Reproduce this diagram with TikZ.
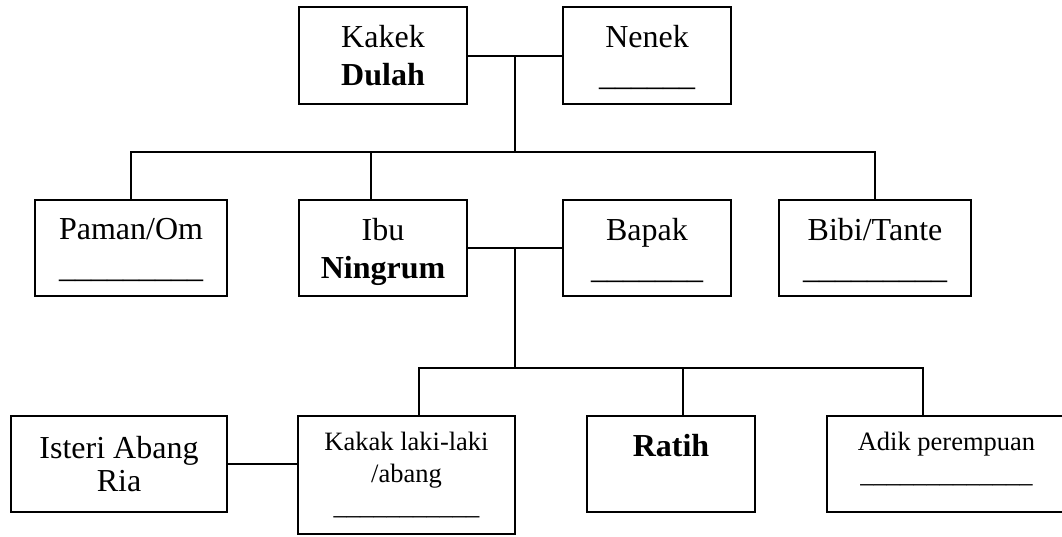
\documentclass[tikz,border=0pt]{standalone}
\usepackage{fontspec}
\setmainfont{Liberation Serif}
\usetikzlibrary{calc}
\begin{document}
\begin{tikzpicture}[x=1pt,y=-1pt,
  box/.style={draw, line width=2.2pt, align=center, inner sep=0pt, font=\fontsize{32}{38}\selectfont},
  smallbox/.style={box, font=\fontsize{26.5}{32}\selectfont},
  link/.style={line width=2pt}]
\useasboundingbox (0,0) rectangle (1062,536);
\clip (0,0) rectangle (1062,536);
% generation 1
\node[box, minimum width=168pt, minimum height=97pt] (kakek) at (383,55.5) {Kakek\\\textbf{Dulah}};
\node[box, minimum width=168pt, minimum height=97pt] (nenek) at (647,55.5) {Nenek\\\smash{\_\_\_\_\_\_}};
% generation 2
\node[box, minimum width=192pt, minimum height=96pt] (paman) at (131,248) {Paman/Om\\\smash{\_\_\_\_\_\_\_\_\_}};
\node[box, minimum width=168pt, minimum height=96pt] (ibu) at (383,248) {Ibu\\\smash{\textbf{Ningrum}}};
\node[box, minimum width=168pt, minimum height=96pt] (bapak) at (647,248) {Bapak\\\smash{\_\_\_\_\_\_\_}};
\node[box, minimum width=192pt, minimum height=96pt] (bibi) at (875,248) {Bibi/Tante\\\smash{\_\_\_\_\_\_\_\_\_}};
% generation 3
\node[box, font=\fontsize{32}{33}\selectfont, minimum width=216pt, minimum height=96pt] (isteri) at (119,464) {Isteri Abang\\Ria};
\node[smallbox, minimum width=217pt, minimum height=118pt] (kakak) at (406.5,475) {Kakak laki-laki\\/abang\\\_\_\_\_\_\_\_\_\_\_\_};
\node[box, minimum width=168pt, minimum height=96pt] (ratih) at (671,464) {\textbf{Ratih}\\\mbox{}};
\node[smallbox, minimum width=239pt, minimum height=96pt] (adik) at (946.5,464) {Adik perempuan\\\smash{\_\_\_\_\_\_\_\_\_\_\_\_\_}\rule[-14pt]{0pt}{14pt}};
% connectors generation 1 -> 2
\coordinate (m1) at ($(kakek.east)!0.5!(nenek.west)$);
\coordinate (bus1) at ($(m1)+(0,96.5)$);
\draw[link] (kakek.east) -- (nenek.west);
\draw[link] (m1) -- (bus1);
\draw[link] (paman.north) -- (paman.north |- bus1) -- (bibi.north |- bus1) -- (bibi.north);
\coordinate (ibutop) at ($(ibu.north)+(-12,0)$);
\draw[link] (ibutop) -- (ibutop |- bus1);
% connectors generation 2 -> 3
\coordinate (m2) at ($(ibu.east)!0.5!(bapak.west)$);
\coordinate (bus2) at ($(m2)+(0,120)$);
\draw[link] (ibu.east) -- (bapak.west);
\draw[link] (m2) -- (bus2);
\coordinate (kakaktop) at ($(kakak.north)+(12.5,0)$);
\coordinate (ratihtop) at ($(ratih.north)+(12,0)$);
\coordinate (adiktop) at ($(adik.north)+(-23.5,0)$);
\draw[link] (kakaktop) -- (kakaktop |- bus2) -- (adiktop |- bus2) -- (adiktop);
\draw[link] (ratihtop) -- (ratihtop |- bus2);
\draw[link] (isteri.east) -- (isteri.east -| kakak.west);
\end{tikzpicture}
\end{document}
